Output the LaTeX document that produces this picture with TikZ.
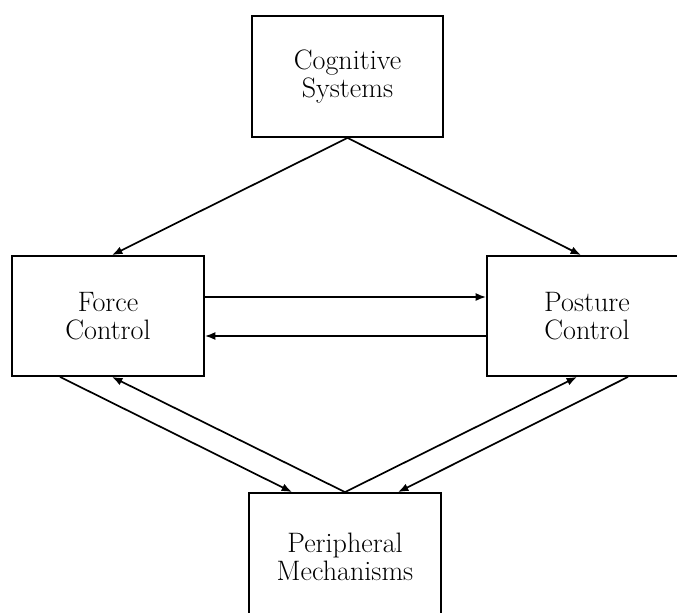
\documentclass[tikz,border=0pt]{standalone}
\usepackage{tikz}
\usetikzlibrary{arrows.meta}

\begin{document}
\begin{tikzpicture}[
    >={Latex[length=2.6mm,width=2mm]},
    block/.style={rectangle, draw, line width=1.3pt, minimum width=4.8cm, minimum height=3cm, align=center, font=\fontsize{20}{20}\selectfont},
    link/.style={->, line width=1.2pt}
]
\useasboundingbox (0,0) rectangle (16.925,-15.3);

\node[block, minimum width=4.775cm, minimum height=3.025cm] (cog) at (8.6875,-1.9125) {Cognitive\\Systems};
\node[block] (force) at (2.7,-7.9) {Force\\Control};
\node[block, minimum width=5cm] (posture) at (14.675,-7.9) {Posture\\Control};
\node[block, minimum height=3.2cm] (periph) at (8.625,-13.925) {Peripheral\\Mechanisms};

\draw[link] (cog.south) -- ([xshift=0.1cm]force.north);
\draw[link] (cog.south) -- ([xshift=-0.15cm]posture.north);
\draw[link] ([yshift=0.475cm]force.east) -- ([yshift=0.475cm]posture.west);
\draw[link] ([yshift=-0.5cm]posture.west) -- ([yshift=-0.5cm]force.east);
\draw[link] ([xshift=-1.2cm]force.south) -- ([xshift=-1.325cm]periph.north);
\draw[link] (periph.north) -- ([xshift=0.1cm]force.south);
\draw[link] (periph.north) -- ([xshift=-0.25cm]posture.south);
\draw[link] ([xshift=1.025cm]posture.south) -- ([xshift=1.325cm]periph.north);

\end{tikzpicture}
\end{document}
